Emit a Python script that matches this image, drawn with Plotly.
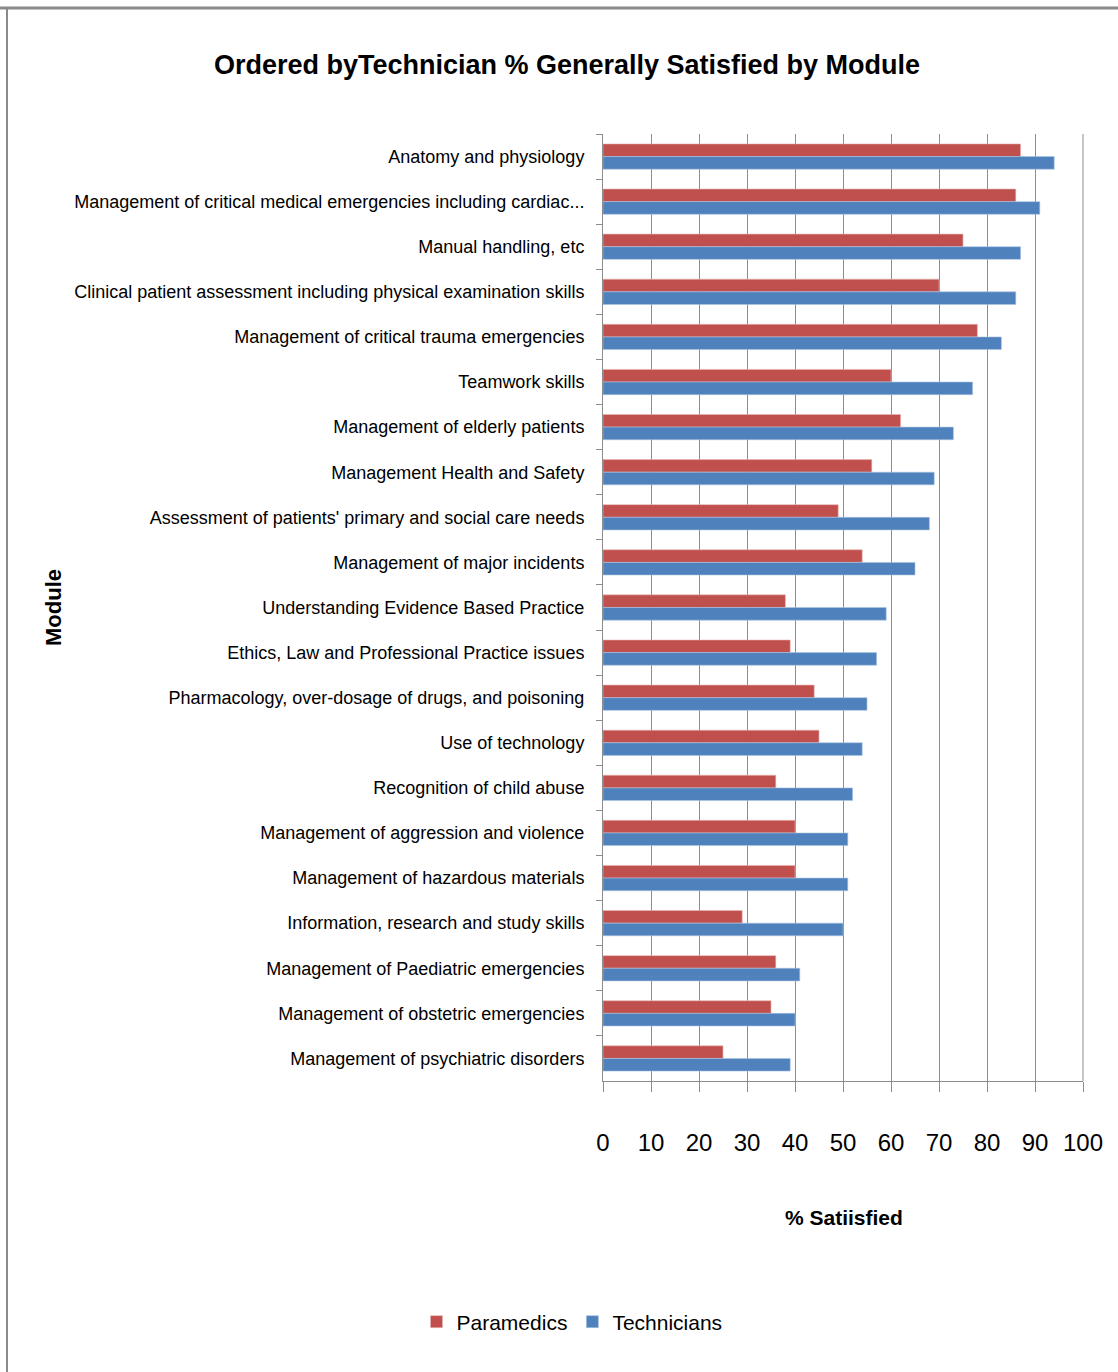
import plotly.graph_objects as go

modules = [
    "Anatomy and physiology",
    "Management of critical medical emergencies including cardiac...",
    "Manual handling, etc",
    "Clinical patient assessment including physical examination skills",
    "Management of critical trauma emergencies",
    "Teamwork skills",
    "Management of elderly patients",
    "Management Health and Safety",
    "Assessment of patients' primary and social care needs",
    "Management of major incidents",
    "Understanding Evidence Based Practice",
    "Ethics, Law and Professional Practice issues",
    "Pharmacology, over-dosage of drugs, and poisoning",
    "Use of technology",
    "Recognition of child abuse",
    "Management of aggression and violence",
    "Management of hazardous materials",
    "Information, research and study skills",
    "Management of Paediatric emergencies",
    "Management of obstetric emergencies",
    "Management of psychiatric disorders",
]
paramedics = [87, 86, 75, 70, 78, 60, 62, 56, 49, 54, 38, 39, 44, 45, 36, 40, 40, 29, 36, 35, 25]
technicians = [94, 91, 87, 86, 83, 77, 73, 69, 68, 65, 59, 57, 55, 54, 52, 51, 51, 50, 41, 40, 39]
x_ticks = list(range(0, 101, 10))

FONT = "Liberation Sans, Arial, sans-serif"
RED = "#C0504D"
BLUE = "#4F81BD"
GRID = "#8C8C8C"

fig = go.Figure()
fig.add_trace(go.Bar(
    y=modules, x=paramedics, name="Paramedics", orientation="h",
    marker=dict(color=RED, line=dict(color="#E8B5B3", width=0.6)),
))
fig.add_trace(go.Bar(
    y=modules, x=technicians, name="Technicians", orientation="h",
    marker=dict(color=BLUE, line=dict(color="#A9C2E3", width=0.6)),
))

W, H = 1118, 1372
L, R, T, B = 603, 35, 134, 291
pw, ph = W - L - R, H - T - B


def px_x(p):
    return (p - L) / pw


def px_y(p):
    return (H - B - p) / ph


fig.update_layout(
    width=W, height=H,
    margin=dict(l=L, r=R, t=T, b=B, pad=0, autoexpand=False),
    paper_bgcolor="white", plot_bgcolor="white",
    barmode="group", bargap=0.44, bargroupgap=0.0,
    title=dict(
        text="<b>Ordered byTechnician % Generally Satisfied by Module</b>",
        font=dict(family=FONT, size=27, color="black"),
        x=567 / W, xref="container", xanchor="center",
        y=1 - 65 / H, yref="container", yanchor="middle",
    ),
    showlegend=True,
    legend=dict(
        orientation="h", x=px_x(572), xanchor="center",
        y=px_y(1322), yanchor="middle",
        font=dict(family=FONT, size=21, color="black"),
        itemwidth=30, traceorder="normal",
    ),
    xaxis=dict(
        range=[0, 100], tickvals=x_ticks, ticktext=[str(v) for v in x_ticks],
        tickangle=0, automargin=False,
        showgrid=True, gridcolor=GRID, gridwidth=1,
        showline=True, linecolor=GRID, linewidth=1, mirror=False,
        ticks="outside", ticklen=10, tickcolor=GRID,
        ticklabelstandoff=30,
        tickfont=dict(family=FONT, size=24, color="black"),
        zeroline=False, fixedrange=True,
    ),
    yaxis=dict(
        autorange="reversed", type="category", automargin=False,
        showline=True, linecolor=GRID, linewidth=1,
        ticks="outside", ticklen=6, tickcolor=GRID, tickson="boundaries",
        ticklabelstandoff=14,
        tickfont=dict(family=FONT, size=18, color="black"),
        showgrid=False, fixedrange=True,
    ),
    annotations=[
        dict(text="<b>% Satiisfied</b>", xref="paper", yref="paper",
             x=px_x(844), y=px_y(1217), xanchor="center", yanchor="middle",
             showarrow=False,
             font=dict(family=FONT, size=21, color="black")),
        dict(text="<b>Module</b>", xref="paper", yref="paper",
             x=px_x(53), y=px_y(608), xanchor="center", yanchor="middle",
             showarrow=False, textangle=-90,
             font=dict(family=FONT, size=22, color="black")),
    ],
    shapes=[
        # right edge of the plot area (100% gridline frame)
        dict(type="line", xref="paper", yref="paper", x0=1, x1=1, y0=0, y1=1,
             line=dict(color=GRID, width=1)),
        # outer chart frame (top and left edges)
        dict(type="line", xref="paper", yref="paper",
             x0=px_x(0), x1=px_x(W), y0=px_y(8), y1=px_y(8),
             line=dict(color="#8A8A8A", width=3)),
        dict(type="line", xref="paper", yref="paper",
             x0=px_x(7), x1=px_x(7), y0=px_y(8), y1=px_y(H),
             line=dict(color="#8A8A8A", width=2)),
    ],
)

fig.write_html("out.html")
